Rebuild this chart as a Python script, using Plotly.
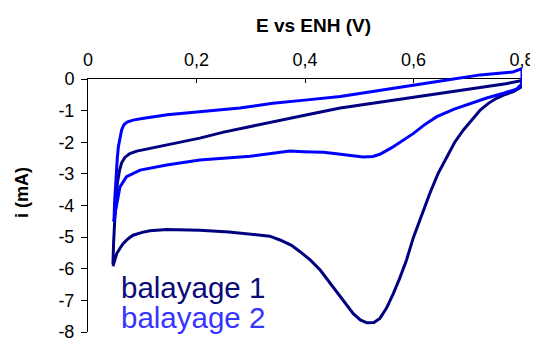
import plotly.graph_objects as go

# balayage 1 : forward (anodic) branch then return (cathodic) branch
E1 = [0.046, 0.049, 0.053, 0.059, 0.065, 0.074, 0.083, 0.100, 0.114, 0.145, 0.206, 0.260,
      0.299, 0.317, 0.335, 0.354, 0.375, 0.391, 0.410, 0.428, 0.446, 0.465, 0.478, 0.489,
      0.502, 0.514, 0.527, 0.538, 0.550, 0.563, 0.575, 0.587, 0.600, 0.615, 0.630, 0.645,
      0.661, 0.676, 0.692, 0.708, 0.723, 0.738, 0.753, 0.769, 0.784, 0.800,
      0.800, 0.770, 0.723, 0.662, 0.600, 0.538, 0.465, 0.404, 0.341, 0.299, 0.250, 0.206,
      0.146, 0.110, 0.090, 0.077, 0.068, 0.062, 0.058, 0.054, 0.051, 0.049, 0.047, 0.046]
I1 = [-5.92, -5.75, -5.52, -5.35, -5.20, -5.05, -4.94, -4.85, -4.80, -4.76, -4.78, -4.84,
      -4.90, -4.92, -4.97, -5.09, -5.26, -5.46, -5.73, -6.04, -6.45, -6.89, -7.18, -7.42,
      -7.62, -7.71, -7.70, -7.57, -7.25, -6.78, -6.28, -5.73, -5.00, -4.30, -3.62, -3.00,
      -2.46, -2.00, -1.61, -1.27, -0.98, -0.77, -0.61, -0.49, -0.40, -0.24,
      -0.05, -0.15, -0.27, -0.41, -0.57, -0.73, -0.92, -1.13, -1.36, -1.51, -1.68, -1.87,
      -2.09, -2.20, -2.28, -2.36, -2.48, -2.65, -2.90, -3.30, -3.90, -4.55, -5.25, -5.85]

# balayage 2
E2 = [0.047, 0.050, 0.053, 0.059, 0.071, 0.096, 0.145, 0.206, 0.299, 0.335, 0.372, 0.397,
      0.434, 0.458, 0.480, 0.507, 0.525, 0.538, 0.560, 0.581, 0.600, 0.620, 0.643, 0.675,
      0.704, 0.735, 0.766, 0.790, 0.800,
      0.800, 0.783, 0.723, 0.662, 0.599, 0.538, 0.465, 0.404, 0.341, 0.280, 0.206, 0.146,
      0.100, 0.083, 0.072, 0.066, 0.062, 0.059, 0.056, 0.054, 0.052, 0.050, 0.049, 0.048]
I2 = [-4.51, -4.25, -3.93, -3.41, -3.09, -2.88, -2.72, -2.56, -2.44, -2.35, -2.28, -2.30,
      -2.32, -2.36, -2.42, -2.47, -2.45, -2.38, -2.17, -1.93, -1.72, -1.45, -1.19, -0.95,
      -0.78, -0.60, -0.45, -0.32, -0.15,
      0.33, 0.22, 0.13, -0.03, -0.19, -0.35, -0.55, -0.66, -0.77, -0.92, -1.03, -1.13,
      -1.25, -1.30, -1.36, -1.45, -1.61, -1.84, -2.14, -2.50, -2.98, -3.51, -3.90, -4.46]

SERIES = ["balayage 1", "balayage 2"]
LINE_COLORS = ["#000080", "#0000FF"]
TEXT_COLORS = ["#0A0A78", "#3535FF"]

X_TICKS = [0, 0.2, 0.4, 0.6, 0.8]
X_TICK_LABELS = ["0", "0,2", "0,4", "0,6", "0,8"]
Y_TICKS = [0, -1, -2, -3, -4, -5, -6, -7, -8]
Y_TICK_LABELS = ["0", "-1", "-2", "-3", "-4", "-5", "-6", "-7", "-8"]

FONT = "Liberation Sans, Arial, sans-serif"

# the page body adds an 8px margin: pixel positions below are figure pixels
# (window pixels minus 8); the figure overflows the window by 8px, which is cropped
W, H = 538, 340
M_L, M_R, M_T, M_B = 80, 24, 52, 16
AX_TOP = 71                      # pixel row of the i = 0 axis
plot_w = W - M_L - M_R
plot_h = H - M_T - M_B
y_dom_top = (H - M_B - AX_TOP) / plot_h
y2_top = -8 + 8 / y_dom_top      # same scale as visible axis, room above 0


def px(x):
    return (x - M_L) / plot_w


def py(y):
    return (H - M_B - y) / plot_h


fig = go.Figure()
# empty trace so the visible x/y axes get drawn
fig.add_trace(go.Scatter(x=[None], y=[None], xaxis="x", yaxis="y",
                         showlegend=False, hoverinfo="skip"))
for e, i, name, color in zip([E1, E2], [I1, I2], SERIES, LINE_COLORS):
    fig.add_trace(go.Scatter(x=e, y=i, name=name, mode="lines",
                             line=dict(color=color, width=3),
                             xaxis="x", yaxis="y2", showlegend=False))

for k, (name, color) in enumerate(zip(SERIES, TEXT_COLORS)):
    fig.add_annotation(text=name, xref="paper", yref="paper",
                       x=px(112), xanchor="left",
                       y=py(279 + 30 * k), yanchor="middle",
                       showarrow=False, borderpad=0,
                       font=dict(size=29.5, color=color, family=FONT))

fig.add_annotation(text="<b>E vs ENH (V)</b>", xref="paper", yref="paper",
                   x=px(305), y=py(17), xanchor="center", yanchor="middle",
                   showarrow=False, font=dict(size=19))
fig.add_annotation(text="<b>i (mA)</b>", xref="paper", yref="paper",
                   x=px(14), y=py(185), xanchor="center", yanchor="middle",
                   textangle=-90, showarrow=False, font=dict(size=18))

fig.update_layout(
    width=W, height=H,
    margin=dict(l=M_L, r=M_R, t=M_T, b=M_B, autoexpand=False),
    paper_bgcolor="white", plot_bgcolor="rgba(0,0,0,0)",
    font=dict(family=FONT, size=18, color="black"),
    showlegend=False,
    xaxis=dict(range=[0, 0.8], side="top", anchor="y", automargin=False,
               tickvals=X_TICKS, ticktext=X_TICK_LABELS, ticklabeloverflow="allow",
               ticks="inside", ticklen=4, tickcolor="black", ticklabelstandoff=5,
               showline=True, linecolor="black", linewidth=1,
               showgrid=False, zeroline=False),
    yaxis=dict(range=[-8, 0], domain=[0, y_dom_top], anchor="x", automargin=False,
               tickvals=Y_TICKS, ticktext=Y_TICK_LABELS, ticklabeloverflow="allow",
               ticks="outside", ticklen=6, tickcolor="black", ticklabelstandoff=3,
               showline=True, linecolor="black", linewidth=1,
               showgrid=False, zeroline=False),
    yaxis2=dict(range=[-8, y2_top], domain=[0, 1], anchor="x", automargin=False,
                showgrid=False, zeroline=False, showline=False,
                showticklabels=False, ticks=""),
)

fig.write_html("out.html")
